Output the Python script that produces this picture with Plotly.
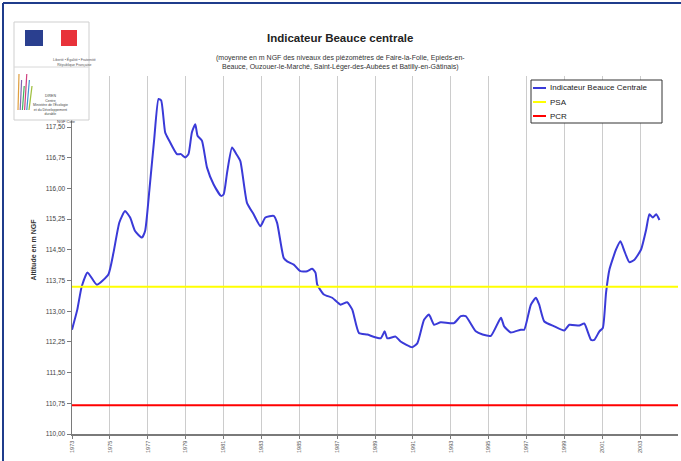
import plotly.graph_objects as go

# ---- data ----
dates = [1973.00, 1973.28, 1973.51, 1973.82, 1974.31, 1974.92, 1975.19, 1975.50, 1975.80,
         1976.07, 1976.33, 1976.69, 1976.86, 1977.09, 1977.34, 1977.57, 1977.71, 1977.92,
         1978.10, 1978.54, 1978.75, 1978.98, 1979.15, 1979.33, 1979.51, 1979.63, 1979.86,
         1980.13, 1980.48, 1980.87, 1981.01, 1981.19, 1981.45, 1981.68, 1981.89, 1982.24,
         1982.59, 1982.95, 1983.21, 1983.65, 1983.83, 1984.18, 1984.36, 1984.71, 1985.06,
         1985.42, 1985.68, 1985.86, 1985.95, 1986.30, 1986.74, 1987.18, 1987.53, 1987.80,
         1988.15, 1988.59, 1989.30, 1989.51, 1989.65, 1990.09, 1990.35, 1990.97, 1991.24,
         1991.59, 1991.85, 1992.12, 1992.47, 1993.17, 1993.53, 1993.79, 1994.32, 1994.68,
         1995.12, 1995.65, 1995.82, 1996.17, 1996.70, 1996.88, 1997.23, 1997.50, 1997.67,
         1997.94, 1998.47, 1998.99, 1999.26, 1999.79, 2000.05, 2000.41, 2000.58, 2000.85,
         2001.03, 2001.20, 2001.38, 2001.73, 2001.96, 2002.17, 2002.43, 2002.70, 2003.05,
         2003.32, 2003.49, 2003.67, 2003.85, 2004.02]
indicateur = [112.55, 113.04, 113.60, 113.95, 113.65, 113.90, 114.43, 115.17, 115.45,
              115.29, 114.96, 114.80, 114.96, 115.98, 117.20, 118.19, 118.15, 117.37,
              117.20, 116.84, 116.84, 116.76, 116.84, 117.37, 117.57, 117.29, 117.17,
              116.51, 116.10, 115.82, 115.86, 116.39, 117.00, 116.84, 116.67, 115.65,
              115.37, 115.08, 115.29, 115.33, 115.16, 114.30, 114.22, 114.14, 113.98,
              113.98, 114.04, 113.94, 113.65, 113.41, 113.33, 113.16, 113.22, 113.04,
              112.47, 112.43, 112.34, 112.51, 112.34, 112.38, 112.26, 112.12, 112.22,
              112.79, 112.92, 112.67, 112.73, 112.71, 112.88, 112.88, 112.51, 112.43,
              112.40, 112.84, 112.63, 112.48, 112.55, 112.55, 113.16, 113.33, 113.16,
              112.75, 112.63, 112.53, 112.67, 112.65, 112.70, 112.30, 112.30, 112.51,
              112.59, 113.45, 114.02, 114.51, 114.71, 114.47, 114.20, 114.26, 114.51,
              115.00, 115.37, 115.29, 115.37, 115.23]
psa_level = 113.6
pcr_level = 110.7
x_range = [1973, 2005]
tick_years = list(range(1973, 2005, 2))
tick_labels = [str(y) for y in tick_years]
y_ticks = [110.00, 110.75, 111.50, 112.25, 113.00, 113.75, 114.50, 115.25, 116.00, 116.75, 117.50]
y_range = [110.0, 118.75]
series_names = ["Indicateur Beauce Centrale", "PSA", "PCR"]
series_colors = ["#3a3ad8", "#ffff00", "#ff0000"]

# ---- layout geometry helpers (pixels -> paper) ----
L, R, T, B = 72, 678, 76, 434
W, H = 681, 461
def px(x):
    return (x - L) / (R - L)
def py(y):
    return (B - y) / (B - T)

FONT = "Liberation Sans, Arial"

fig = go.Figure()
fig.add_trace(go.Scatter(x=dates, y=indicateur, mode="lines", name=series_names[0],
                         line=dict(color=series_colors[0], width=2, shape="spline", smoothing=0.5)))
fig.add_trace(go.Scatter(x=x_range, y=[psa_level, psa_level], mode="lines", name=series_names[1],
                         line=dict(color=series_colors[1], width=2)))
fig.add_trace(go.Scatter(x=x_range, y=[pcr_level, pcr_level], mode="lines", name=series_names[2],
                         line=dict(color=series_colors[2], width=2)))

shapes = []
# outer frame (left / top)
shapes.append(dict(type="line", xref="paper", yref="paper", x0=px(3), x1=px(3), y0=py(3), y1=py(461),
                   line=dict(color="#1f3c8c", width=2)))
shapes.append(dict(type="line", xref="paper", yref="paper", x0=px(3), x1=px(681), y0=py(3), y1=py(3),
                   line=dict(color="#1f3c8c", width=2)))
# logo box
shapes.append(dict(type="rect", xref="paper", yref="paper", x0=px(14), x1=px(89), y0=py(22), y1=py(120),
                   fillcolor="white", line=dict(color="#cfcfcf", width=1), layer="above"))
shapes.append(dict(type="line", xref="paper", yref="paper", x0=px(14), x1=px(89), y0=py(67), y1=py(67),
                   line=dict(color="#d8d8d8", width=1), layer="above"))
shapes.append(dict(type="rect", xref="paper", yref="paper", x0=px(25), x1=px(43), y0=py(30), y1=py(46),
                   fillcolor="#2a3f8f", line=dict(width=0), layer="above"))
shapes.append(dict(type="rect", xref="paper", yref="paper", x0=px(61), x1=px(77), y0=py(30), y1=py(46),
                   fillcolor="#e8323a", line=dict(width=0), layer="above"))
logo_cols = ["#e0a040", "#8060b0", "#40b060", "#d04080", "#4090d0", "#a0c040"]
for i, c in enumerate(logo_cols):
    shapes.append(dict(type="line", xref="paper", yref="paper", x0=px(18 + i * 2.2), x1=px(19 + i * 2.6),
                       y0=py(110), y1=py(74 + (i % 3) * 6), line=dict(color=c, width=1.2), layer="above"))

# legend box (drawn by hand to match the compact Excel legend)
shapes.append(dict(type="rect", xref="paper", yref="paper", x0=px(531), x1=px(662), y0=py(80), y1=py(123),
                   fillcolor="white", line=dict(color="#333", width=1), layer="above"))
annotations = []
for i, (nm, col) in enumerate(zip(series_names, series_colors)):
    yy = 88 + i * 14
    shapes.append(dict(type="line", xref="paper", yref="paper", x0=px(533), x1=px(546), y0=py(yy), y1=py(yy),
                       line=dict(color=col, width=2), layer="above"))
    annotations.append(dict(text=nm, x=px(548), y=py(yy), xref="paper", yref="paper", xanchor="left",
                            yanchor="middle", showarrow=False,
                            font=dict(size=8, color="#222", family=FONT)))

annotations += [
    dict(text="<b>Indicateur Beauce centrale</b>", x=px(340), y=py(30), xref="paper", yref="paper",
         showarrow=False, font=dict(size=11.5, color="#222", family=FONT)),
    dict(text="(moyenne en m NGF des niveaux des piézomètres de Faire-la-Folie, Epieds-en-<br>"
              "Beauce, Ouzouer-le-Marché, Saint-Léger-des-Aubées et Batilly-en-Gâtinais)",
         x=px(340), y=py(52), xref="paper", yref="paper", showarrow=False,
         font=dict(size=7, color="#333", family=FONT)),
    dict(text="<b>Altitude en m NGF</b>", x=px(27), y=py(250), xref="paper", yref="paper",
         showarrow=False, textangle=-90, font=dict(size=7, color="#333", family=FONT)),
    dict(text="Liberté • Égalité • Fraternité<br>République Française", x=px(51), y=py(55),
         xref="paper", yref="paper", showarrow=False,
         font=dict(size=3.5, color="#555", family=FONT)),
    dict(text="DIREN<br>Centre<br>Ministère de l'Écologie<br>et du Développement<br>durable",
         x=px(50), y=py(92), xref="paper", yref="paper", showarrow=False, xanchor="center",
         font=dict(size=3.5, color="#444", family=FONT)),
    dict(text="NGF Cote", x=px(55), y=py(117), xref="paper", yref="paper", showarrow=False,
         font=dict(size=4, color="#444", family=FONT)),
]

fig.update_layout(
    width=W, height=H,
    margin=dict(l=L, r=W - R, t=T, b=H - B, pad=0),
    paper_bgcolor="white", plot_bgcolor="white",
    separators=", ",
    showlegend=False,
    hovermode=False,
    xaxis=dict(range=x_range, tickvals=tick_years, ticktext=tick_labels, tickangle=-90,
               showgrid=True, gridcolor="#cccccc", gridwidth=1,
               showline=True, linecolor="#7a7a7a", linewidth=1.5, ticks="outside", ticklen=3,
               tickcolor="#7a7a7a", zeroline=False,
               tickfont=dict(size=5.5, color="#555", family=FONT)),
    yaxis=dict(range=y_range, tickvals=y_ticks, tickformat=".2f", showgrid=False,
               showline=True, linecolor="#7a7a7a", linewidth=1.5, ticks="outside", ticklen=4,
               tickcolor="#7a7a7a", zeroline=False,
               tickfont=dict(size=6.5, color="#444", family=FONT)),
    shapes=shapes, annotations=annotations,
)

fig.write_html("out.html", config={"displayModeBar": False, "staticPlot": True},
               post_script="document.body.style.margin='0';document.body.style.overflow='hidden';")
